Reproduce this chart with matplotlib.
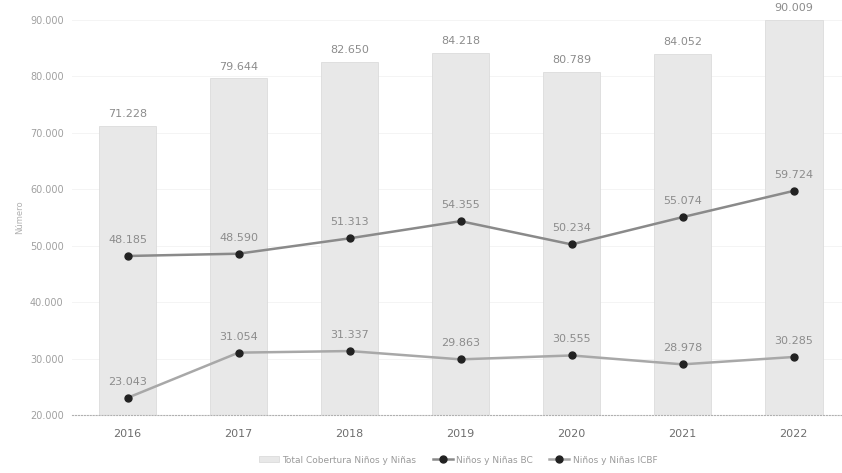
import numpy as np
import matplotlib.pyplot as plt

years = ['2016', '2017', '2018', '2019', '2020', '2021', '2022']
total = [71228, 79644, 82650, 84218, 80789, 84052, 90009]
bc = [48185, 48590, 51313, 54355, 50234, 55074, 59724]
icbf = [23043, 31054, 31337, 29863, 30555, 28978, 30285]

def fmt(v):
    return f'{v:,}'.replace(',', '.')

fig = plt.figure(figsize=(8.42, 4.73), dpi=100)
ax = fig.add_axes([0.0855, 0.1226, 0.923, 0.835])
x = np.arange(len(years))

bars = ax.bar(x, total, width=0.52, color='#e8e8e8', edgecolor='#dcdcdc',
              linewidth=0.6, label='Total Cobertura Niños y Niñas', zorder=2)
l1, = ax.plot(x, bc, color='#8a8a8a', lw=1.8, marker='o', ms=5, mfc='#222222', mec='#222222',
              label='Niños y Niñas BC', zorder=3)
l2, = ax.plot(x, icbf, color='#a8a8a8', lw=1.8, marker='o', ms=5, mfc='#222222', mec='#222222',
              label='Niños y Niñas ICBF', zorder=3)

for i in x:
    ax.annotate(fmt(total[i]), (i, min(total[i], 90000)), xytext=(0, 5), textcoords='offset points',
                ha='center', va='bottom', fontsize=8, color='#8c8c8c', annotation_clip=False)
    ax.annotate(fmt(bc[i]), (i, bc[i]), xytext=(0, 8), textcoords='offset points',
                ha='center', va='bottom', fontsize=8, color='#8c8c8c')
    ax.annotate(fmt(icbf[i]), (i, icbf[i]), xytext=(0, 8), textcoords='offset points',
                ha='center', va='bottom', fontsize=8, color='#8c8c8c')

ax.set_ylim(20000, 90000)
ax.set_xlim(-0.5, 6.5)
ax.set_yticks(np.arange(20000, 90001, 10000))
ax.set_yticklabels([fmt(v) for v in range(20000, 90001, 10000)], fontsize=7, color='#a0a0a0')
ax.set_xticks(x)
ax.set_xticklabels(years, fontsize=8, color='#6e6e6e')
ax.tick_params(length=0, pad=6)
ax.tick_params(axis='x', pad=10)
ax.grid(axis='y', color='#f2f2f2', lw=0.6, zorder=0)
for s in ['top', 'right', 'left']:
    ax.spines[s].set_visible(False)
ax.spines['bottom'].set_color('#b0b0b0')
ax.spines['bottom'].set_linestyle(':')
ax.set_ylabel('Número', fontsize=6, color='#b0b0b0', labelpad=4)

leg = ax.legend([bars, l1, l2], [bars.get_label(), l1.get_label(), l2.get_label()],
                loc='upper center', bbox_to_anchor=(0.497, -0.082), ncol=3, frameon=False,
                fontsize=6.5, handlelength=2.2, columnspacing=1.8, handleheight=0.6,
                handletextpad=0.4)
for t in leg.get_texts():
    t.set_color('#9a9a9a')

fig.savefig('out.png', dpi=100)
